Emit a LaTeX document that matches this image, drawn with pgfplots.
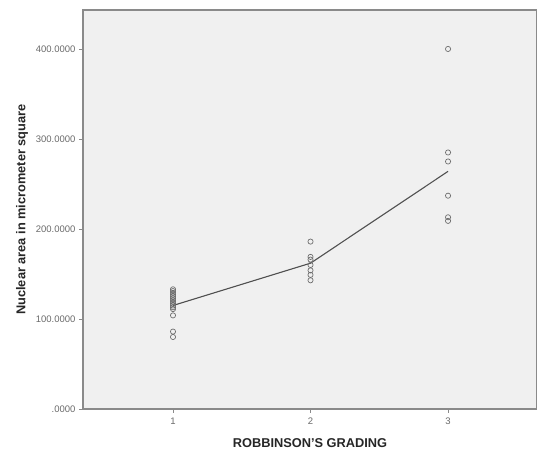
\documentclass[border=0pt]{standalone}
\usepackage{pgfplots}
\pgfplotsset{compat=1.18}
\usepackage{fontspec}
\setmainfont{Liberation Sans}
\definecolor{bgc}{HTML}{F0F0F0}
\definecolor{axc}{HTML}{8A8A8A}
\definecolor{ptc}{HTML}{6E6E6E}
\definecolor{lnc}{HTML}{505050}
\definecolor{tkc}{HTML}{6A6A6A}
\begin{document}
\begin{tikzpicture}[x=1pt,y=1pt]
\begin{axis}[
  at={(0,0)}, anchor=south west,
  scale only axis, width=454pt, height=399pt,
  xmin=0.3455, xmax=3.647, ymin=0, ymax=443.3,
  axis background/.style={fill=bgc},
  axis line style={axc, line width=1.3pt},
  xtick={1,2,3}, xticklabels={1,2,3},
  ytick={0,100,200,300,400},
  yticklabels={.0000,100.0000,200.0000,300.0000,400.0000},
  tick align=outside, tick pos=left,
  major tick length=4pt,
  tick style={axc, line width=0.6pt},
  ticklabel style={font=\fontsize{9.5}{11}\selectfont, text=tkc},
  xticklabel style={yshift=-1pt},
  xlabel={\textbf{ROBBINSON'S GRADING}},
  ylabel={\textbf{Nuclear area in micrometer square}},
  label style={font=\fontsize{12.8}{14}\selectfont, text=black!85},
  xlabel style={at={(axis description cs:0.5,-0.0852)}, anchor=center},
  ylabel style={at={(axis description cs:-0.1344,0.5)}, anchor=center},
]
\addplot[only marks, mark=o, mark size=2.6pt, mark options={ptc, line width=0.7pt}] coordinates {
 (1,133) (1,131) (1,129) (1,127) (1,125) (1,123) (1,121) (1,119) (1,117) (1,115) (1,113) (1,111) (1,104) (1,86) (1,80)
 (2,186) (2,169) (2,166) (2,160) (2,154) (2,149) (2,143)
 (3,400) (3,285) (3,275) (3,237) (3,213) (3,209)
};
\addplot[lnc, line width=1.1pt] coordinates {(1,115) (2,162) (3,264)};
\end{axis}
\pgfresetboundingbox
\path (-83,-45) rectangle (454,409);
\end{tikzpicture}
\end{document}
